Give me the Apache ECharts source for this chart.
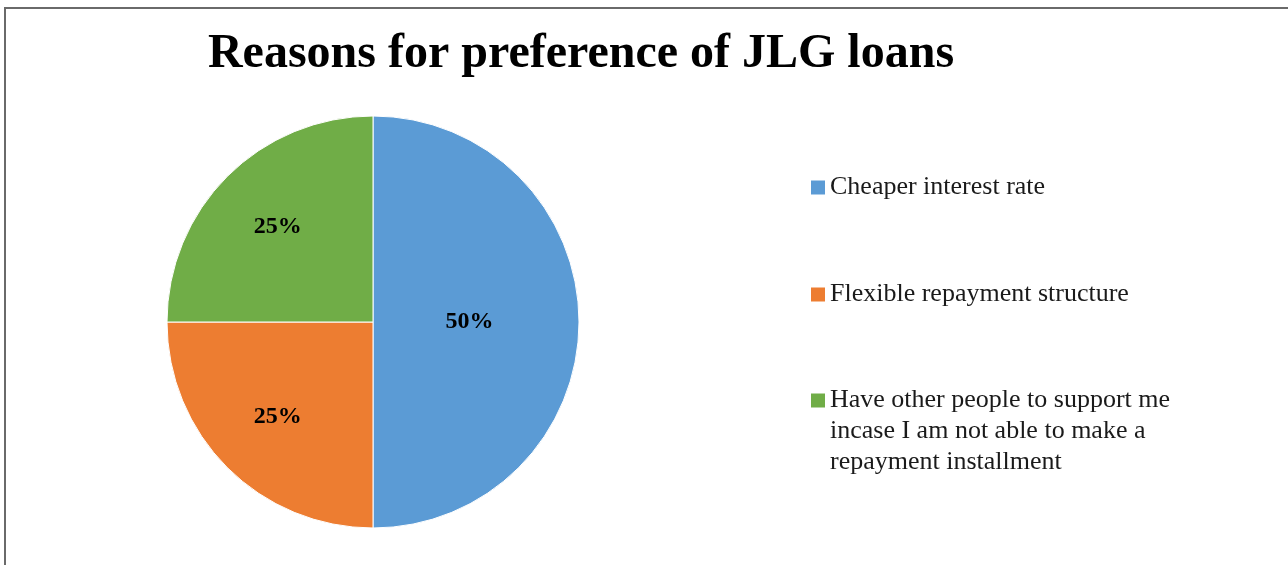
<!DOCTYPE html>
<html>
<head>
<meta charset="utf-8">
<script src="https://cdn.jsdelivr.net/npm/echarts@6/dist/echarts.min.js"></script>
<style>
  html, body { margin: 0; padding: 0; background: #fff; }
  #frame { position: absolute; left: 4px; top: 7px; width: 1284px; height: 558px;
           border-top: 2px solid #6a6a6a; border-left: 2px solid #6a6a6a; box-sizing: border-box; }
  #chart { position: absolute; left: 0; top: 0; width: 1288px; height: 565px; }
</style>
</head>
<body>
<div id="chart"></div>
<div id="frame"></div>
<script>
const title = 'Reasons for preference of JLG loans';
const categories = [
  'Cheaper interest rate',
  'Flexible repayment structure',
  'Have other people to support me\nincase I am not able to make a\nrepayment installment'
];
const values = [50, 25, 25];
const colors = ['#5B9BD5', '#ED7D31', '#70AD47'];

const FONT = '"Liberation Serif", "DejaVu Serif", serif';
const CENTER = [373, 322];
const RADIUS = 206;
const labelScale = [0.91, 1.27, 1.27];

const chart = echarts.init(document.getElementById('chart'), null, { renderer: 'canvas' });

const legendCommon = {
  orient: 'vertical',
  left: 811,
  padding: 0,
  icon: 'rect',
  itemWidth: 14,
  itemHeight: 14,
  itemStyle: { borderWidth: 0 },
  selectedMode: false,
  textStyle: { fontFamily: FONT, fontSize: 26, color: '#1a1a1a', lineHeight: 31 }
};

chart.setOption({
  backgroundColor: '#fff',
  animation: false,
  title: {
    text: title,
    left: 581,
    textAlign: 'center',
    top: 31,
    padding: 0,
    textStyle: { fontFamily: FONT, fontSize: 48, fontWeight: 'bold', color: '#000' }
  },
  legend: [
    Object.assign({}, legendCommon, { top: 172, data: [categories[0]] }),
    Object.assign({}, legendCommon, { top: 279, data: [categories[1]] }),
    Object.assign({}, legendCommon, {
      top: 323, data: [categories[2]],
      formatter: function (name) { return '\n\n' + name; }
    })
  ],
  series: [{
    type: 'pie',
    center: CENTER,
    radius: RADIUS,
    startAngle: 90,
    clockwise: true,
    color: colors,
    itemStyle: { borderColor: '#fff', borderWidth: 1 },
    label: {
      show: true,
      position: 'inside',
      formatter: '{d}%',
      fontFamily: FONT,
      fontSize: 24,
      fontWeight: 'bold',
      color: '#000'
    },
    labelLine: { show: false },
    emphasis: { disabled: true },
    labelLayout: function (p) {
      const r = p.labelRect;
      const lx = r.x + r.width / 2, ly = r.y + r.height / 2;
      const k = labelScale[p.dataIndex];
      return { x: CENTER[0] + (lx - CENTER[0]) * k, y: CENTER[1] + (ly - CENTER[1]) * k };
    },
    data: categories.map((c, i) => ({ name: c, value: values[i] }))
  }]
});
</script>
</body>
</html>
